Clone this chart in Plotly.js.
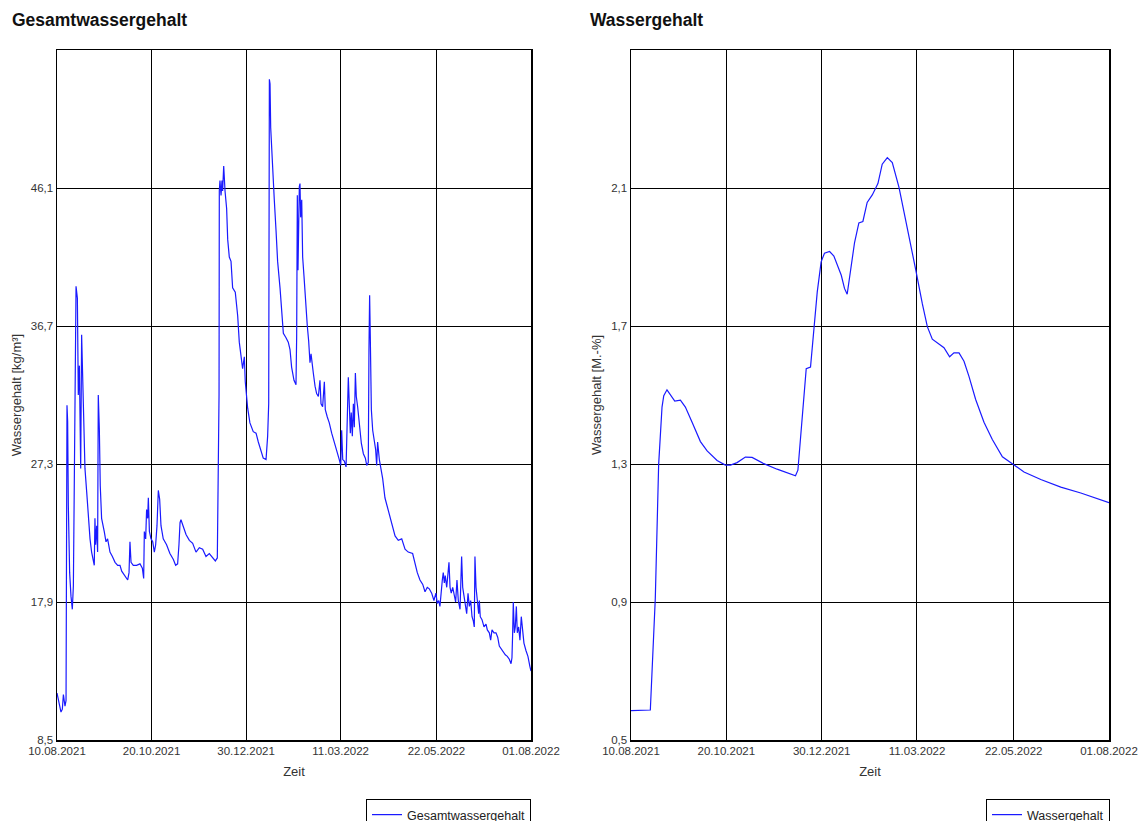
<!DOCTYPE html>
<html>
<head>
<meta charset="utf-8">
<script src="https://cdn.plot.ly/plotly-3.0.1.min.js"></script>
<style>
  html, body { margin: 0; padding: 0; background: #ffffff; }
  #chart { width: 1144px; height: 821px; }
</style>
</head>
<body>
<div id="chart"></div>
<script>
// ---------- DATA ----------
// Start of the time axis: 10.08.2021; x values are days after that date.
const startDate = '2021-08-10';
const endDate = '2022-08-01';

const xTickLabels = ['10.08.2021', '20.10.2021', '30.12.2021', '11.03.2022', '22.05.2022', '01.08.2022'];

const gesamtTickValues = [8.5, 17.9, 27.3, 36.7, 46.1];
const gesamtRange = [8.5, 55.5];
const wasserTickValues = [0.5, 0.9, 1.3, 1.7, 2.1];
const wasserRange = [0.5, 2.5];

const gesamtDays = [
  0, 1.5, 3, 4, 4.8, 6, 6.8, 7.5, 8, 8.5, 9.5, 10.5, 11.5, 12.3, 13, 13.5, 14.3, 15.3, 16, 16.8,
  17.8, 18.5, 19.3, 20, 21, 22.3, 23.5, 24.8, 26, 27.3, 28, 28.5, 29, 29.8, 30.5, 31, 31.8, 32.5, 33.5, 35.5,
  36.8, 38, 39.8, 41.6, 43.6, 45.6, 47.3, 48.6, 50.3, 51.8, 53.1, 54.1, 54.8, 55.6, 57.3, 59.8, 62.3, 64.1, 65.1, 65.6,
  66.6, 67.3, 68.1, 68.6, 69.4, 70.6, 71.9, 73.1, 74.1, 75.1, 76.1, 77.1, 78.1, 79.8, 82.3, 84.8, 87.4, 89.1, 90.6, 91.6,
  92.4, 93.1, 94.4, 96.9, 99.4, 101.9, 104.4, 106.9, 109.4, 111.9, 114.4, 116.9, 118.9, 120.4, 121.2, 121.7, 121.9, 122.4, 123.2, 123.9,
  124.4, 125.2, 126.2, 127.4, 128.2, 129.4, 130.7, 131.9, 133.9, 135.7, 136.9, 138.2, 139.4, 140.7, 141.4, 143.2, 144.9, 147.4, 149.5, 151.2,
  153.2, 154.9, 157.0, 158.2, 159.0, 159.5, 160.0, 160.5, 161.5, 162.5, 163.2, 164.5, 165.7, 167.5, 169.0, 170.0, 172.0, 173.7, 175.0, 176.2,
  178.0, 179.5, 180.0, 180.5, 181.0, 181.5, 182.0, 182.5, 183.0, 183.8, 184.5, 185.5, 186.3, 187.0, 188.0, 189.0, 190.0, 190.8, 191.5, 192.5,
  193.8, 195.0, 196.3, 197.5, 198.3, 199.5, 200.8, 201.5, 203.0, 204.5, 206.3, 208.0, 209.5, 210.8, 212.0, 213.1, 213.8, 214.6, 215.8, 217.1,
  218.0, 218.8, 219.6, 220.3, 221.0, 221.8, 222.6, 223.3, 224.1, 224.8, 225.8, 227.1, 228.6, 230.1, 231.6, 232.6, 233.8, 234.3, 234.8, 235.3,
  236.1, 237.1, 238.3, 239.3, 240.1, 240.8, 242.1, 243.1, 244.6, 246.3, 248.8, 251.4, 253.9, 256.3, 258.9, 261.4, 263.8, 267.1, 268.9, 270.6,
  272.6, 274.7, 276.4, 278.1, 279.6, 281.4, 283.1, 284.6, 285.6, 286.7, 287.6, 288.4, 289.4, 290.1, 290.9, 291.6, 292.7, 293.4, 294.4, 295.2,
  296.1, 297.2, 298.4, 299.4, 300.4, 301.4, 302.7, 303.4, 303.9, 304.7, 305.7, 306.7, 307.7, 308.7, 309.7, 310.7, 311.7, 312.7, 313.4, 313.9,
  314.7, 315.7, 316.7, 317.2, 317.9, 319.2, 320.7, 322.2, 323.2, 324.7, 325.7, 326.7, 328.2, 329.7, 331.0, 332.2, 333.7, 335.2, 336.7, 338.2,
  339.7, 341.0, 341.7, 342.2, 342.7, 343.5, 344.2, 345.0, 345.7, 346.7, 347.7, 348.7, 349.8, 350.7, 352.2, 353.7, 355.2, 356
];
const gesamtValues = [
  11.7, 10.9, 10.4, 10.6, 11.6, 10.8, 11.2, 31.3, 30.2, 24.5, 19.9, 18.3, 17.4, 19.0, 24.9, 32.7, 39.4, 38.6, 32.0, 34.0,
  27.0, 36.1, 33.1, 29.0, 27.0, 25.4, 23.6, 22.2, 21.3, 20.6, 20.4, 23.6, 21.8, 23.1, 21.3, 32.0, 29.7, 25.8, 23.6, 22.7,
  22.0, 22.2, 21.3, 21.0, 20.6, 20.4, 20.4, 20.0, 19.8, 19.6, 19.4, 19.9, 22.0, 20.6, 20.4, 20.4, 20.5, 20.2, 19.5, 22.7,
  22.2, 24.2, 23.6, 25.0, 22.7, 22.2, 22.0, 21.3, 21.8, 23.1, 25.5, 24.9, 23.1, 22.2, 21.8, 21.2, 20.8, 20.4, 20.5, 21.8,
  23.3, 23.5, 23.2, 22.5, 22.1, 21.9, 21.3, 21.6, 21.5, 21.0, 21.2, 20.9, 20.7, 20.9, 25.9, 32.0, 45.9, 46.6, 45.6, 46.6,
  45.9, 47.6, 45.9, 44.7, 42.6, 41.4, 41.1, 39.3, 39.0, 37.4, 35.6, 34.4, 33.8, 34.6, 32.9, 31.1, 30.1, 29.5, 29.4, 28.8,
  28.2, 27.7, 27.6, 29.2, 31.4, 53.5, 53.2, 50.2, 48.1, 46.9, 45.3, 43.2, 41.1, 39.3, 37.4, 36.2, 35.9, 35.6, 35.1, 33.9,
  33.0, 32.7, 36.0, 45.6, 40.5, 45.8, 46.2, 46.4, 44.1, 45.3, 41.4, 40.1, 38.9, 38.2, 36.7, 35.7, 34.2, 34.8, 34.4, 33.5,
  32.6, 32.1, 31.9, 33.0, 31.4, 31.2, 32.9, 31.0, 30.5, 30.1, 29.4, 28.9, 28.5, 28.1, 27.6, 27.2, 29.6, 27.6, 27.5, 27.1,
  29.8, 33.2, 31.2, 29.4, 30.8, 29.2, 31.4, 29.8, 33.5, 31.9, 31.2, 29.8, 28.7, 28.0, 27.7, 27.2, 27.4, 35.1, 38.8, 36.0,
  31.0, 29.6, 28.7, 28.3, 27.2, 28.8, 27.6, 27.1, 26.3, 25.0, 24.1, 23.1, 22.4, 22.1, 22.2, 21.5, 21.3, 21.2, 20.5, 19.9,
  19.4, 19.1, 18.6, 18.9, 18.8, 18.5, 18.0, 18.5, 17.8, 18.0, 17.6, 18.7, 19.4, 19.9, 19.2, 19.7, 18.9, 19.6, 20.6, 18.9,
  18.5, 18.9, 18.3, 17.9, 19.4, 18.0, 17.4, 18.9, 21.0, 18.9, 18.3, 18.0, 17.1, 18.5, 17.6, 18.0, 16.9, 16.6, 16.2, 21.0,
  18.9, 18.0, 17.1, 18.0, 16.9, 16.7, 16.2, 16.4, 16.0, 15.8, 15.3, 16.0, 15.8, 15.8, 15.5, 14.9, 14.7, 14.5, 14.3, 14.2,
  14.0, 13.7, 14.1, 15.7, 17.9, 15.8, 16.2, 17.6, 15.8, 16.2, 15.3, 16.9, 15.8, 15.1, 14.6, 14.2, 13.5, 13.2
];

const wasserDays = [
  0, 14.4, 18.1, 20.6, 23.1, 24.4, 26.8, 29.3, 32.6, 36.8, 40.5, 45.5, 51.7, 56.7, 64.1, 70.3, 74.1, 79.0, 85.2, 90.2,
  98.9, 108.8, 118.8, 122.5, 124.3, 127.5, 130.5, 133.7, 136.2, 138.7, 141.6, 144.1, 147.9, 151.1, 156.6, 159.0, 161.0, 163.0, 166.5, 169.7,
  172.7, 175.9, 179.7, 183.9, 187.1, 190.9, 194.6, 199.6, 205.8, 212.0, 217.0, 220.7, 224.4, 229.4, 233.1, 237.3, 240.5, 244.3, 248.0, 251.7,
  256.7, 262.9, 269.1, 276.6, 285.3, 292.7, 305.2, 320.1, 335.0, 347.4, 356
];
const wasserValues = [
  0.585, 0.587, 0.911, 1.299, 1.465, 1.498, 1.515, 1.501, 1.482, 1.485, 1.465, 1.421, 1.365, 1.338, 1.310, 1.297, 1.297, 1.304, 1.320, 1.319,
  1.301, 1.285, 1.271, 1.266, 1.282, 1.432, 1.576, 1.581, 1.698, 1.798, 1.886, 1.911, 1.916, 1.903, 1.847, 1.809, 1.792, 1.842, 1.942, 1.999,
  2.003, 2.058, 2.080, 2.113, 2.169, 2.188, 2.174, 2.102, 1.986, 1.864, 1.764, 1.698, 1.662, 1.648, 1.637, 1.611, 1.622, 1.622, 1.598, 1.554,
  1.487, 1.421, 1.371, 1.321, 1.297, 1.277, 1.255, 1.233, 1.216, 1.199, 1.188
];

// ---------- HELPERS ----------
const startMs = Date.parse(startDate + 'T00:00:00Z');
function dayToDate(d) {
  return new Date(startMs + d * 86400000).toISOString().slice(0, 19).replace('T', ' ');
}
function labelToIso(lbl) {
  const p = lbl.split('.');
  return p[2] + '-' + p[1] + '-' + p[0];
}
function commaLabel(v) { return v.toFixed(1).replace('.', ','); }

const W = 1144, H = 821;
const FONT = '"Liberation Sans", Arial, sans-serif';
const lineColor = '#1a1aff';

const xTickVals = xTickLabels.map(labelToIso);

function xAxis(domain, anchor) {
  return {
    type: 'date', domain: domain, anchor: anchor,
    range: [startDate, endDate],
    tickvals: xTickVals, ticktext: xTickLabels,
    showgrid: true, gridcolor: '#000000', gridwidth: 1,
    showline: true, mirror: true, linecolor: '#000000', linewidth: 1.5,
    ticks: '', zeroline: false,
    tickfont: { family: FONT, size: 11.5, color: '#333333' },
    title: { text: 'Zeit', font: { family: FONT, size: 13, color: '#333333' }, standoff: 10 },
    fixedrange: true
  };
}
function yAxis(domain, anchor, range, vals, titleText) {
  return {
    domain: domain, anchor: anchor, range: range,
    tickvals: vals, ticktext: vals.map(commaLabel),
    showgrid: true, gridcolor: '#000000', gridwidth: 1,
    showline: true, mirror: true, linecolor: '#000000', linewidth: 1.5,
    ticks: '', zeroline: false,
    tickfont: { family: FONT, size: 11.5, color: '#333333' },
    title: { text: titleText, font: { family: FONT, size: 13, color: '#333333' }, standoff: 6 },
    fixedrange: true
  };
}

const yDom = [(H - 740) / H, (H - 50) / H];

const traces = [
  {
    type: 'scatter', mode: 'lines', name: 'Gesamtwassergehalt',
    x: gesamtDays.map(dayToDate), y: gesamtValues,
    xaxis: 'x', yaxis: 'y', legend: 'legend',
    line: { color: lineColor, width: 1.2 }
  },
  {
    type: 'scatter', mode: 'lines', name: 'Wassergehalt',
    x: wasserDays.map(dayToDate), y: wasserValues,
    xaxis: 'x2', yaxis: 'y2', legend: 'legend2',
    line: { color: lineColor, width: 1.2 }
  }
];

const legendCommon = {
  bgcolor: '#ffffff', bordercolor: '#000000', borderwidth: 1,
  font: { family: FONT, size: 12.5, color: '#222222' },
  xanchor: 'right', yanchor: 'top', itemwidth: 30,
  tracegroupgap: 0
};

const layout = {
  width: W, height: H,
  margin: { l: 0, r: 0, t: 0, b: 0, autoexpand: false },
  paper_bgcolor: '#ffffff', plot_bgcolor: '#ffffff',
  showlegend: true,
  xaxis: xAxis([57 / W, 531 / W], 'y'),
  yaxis: yAxis(yDom, 'x', gesamtRange, gesamtTickValues, 'Wassergehalt [kg/m³]'),
  xaxis2: xAxis([631 / W, 1109 / W], 'y2'),
  yaxis2: yAxis(yDom, 'x2', wasserRange, wasserTickValues, 'Wassergehalt [M.-%]'),
  legend: Object.assign({}, legendCommon, { x: 531 / W, y: (H - 799) / H }),
  legend2: Object.assign({}, legendCommon, { x: 1110 / W, y: (H - 799) / H }),
  annotations: [
    { text: '<b>Gesamtwassergehalt</b>', xref: 'paper', yref: 'paper', x: 10 / W, y: (H - 20) / H,
      xanchor: 'left', yanchor: 'middle', showarrow: false, font: { family: FONT, size: 17.5, color: '#111111' } },
    { text: '<b>Wassergehalt</b>', xref: 'paper', yref: 'paper', x: 588 / W, y: (H - 20) / H,
      xanchor: 'left', yanchor: 'middle', showarrow: false, font: { family: FONT, size: 17.5, color: '#111111' } }
  ]
};

Plotly.newPlot('chart', traces, layout, { staticPlot: true, displayModeBar: false });
</script>
</body>
</html>
